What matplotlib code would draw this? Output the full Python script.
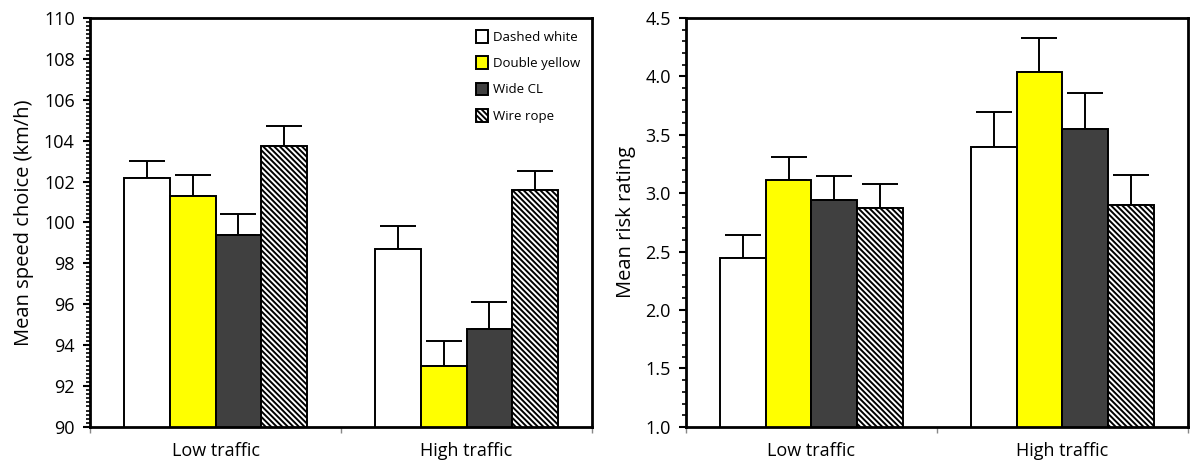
import matplotlib
matplotlib.use("Agg")
import matplotlib.pyplot as plt
from matplotlib.ticker import MultipleLocator
import numpy as np

plt.rcParams['font.family'] = ['Open Sans', 'DejaVu Sans']
plt.rcParams['hatch.linewidth'] = 1.4

conditions = ["Low traffic", "High traffic"]
treatments = ["Dashed white", "Double yellow", "Wide CL", "Wire rope"]

speed_mean = {
    "Dashed white": [102.2, 98.7],
    "Double yellow": [101.3, 93.0],
    "Wide CL": [99.4, 94.8],
    "Wire rope": [103.75, 101.6],
}
speed_err = {
    "Dashed white": [0.8, 1.15],
    "Double yellow": [1.0, 1.2],
    "Wide CL": [1.0, 1.3],
    "Wire rope": [0.95, 0.9],
}
risk_mean = {
    "Dashed white": [2.45, 3.40],
    "Double yellow": [3.11, 4.04],
    "Wide CL": [2.94, 3.55],
    "Wire rope": [2.87, 2.90],
}
risk_err = {
    "Dashed white": [0.19, 0.30],
    "Double yellow": [0.20, 0.29],
    "Wide CL": [0.21, 0.31],
    "Wire rope": [0.21, 0.26],
}

styles = {
    "Dashed white": dict(color="white", hatch=None),
    "Double yellow": dict(color="#ffff00", hatch=None),
    "Wide CL": dict(color="#404040", hatch=None),
    "Wire rope": dict(color="white", hatch="\\" * 6),
}

fig = plt.figure(figsize=(11.9, 4.63), dpi=100)
ax1 = fig.add_axes([0.0756, 0.078, 0.422, 0.883])
ax2 = fig.add_axes([0.5765, 0.078, 0.4215, 0.883])

width = 0.182
x = np.arange(len(conditions))


def draw(ax, means, errs, ylim, major, minor, ylabel, fmt):
    for i, t in enumerate(treatments):
        off = (i - 1.5) * width
        st = styles[t]
        ax.bar(x + off, means[t], width, color=st["color"], hatch=st["hatch"],
               edgecolor="black", linewidth=1.4, label=t, zorder=2)
        lo = np.zeros(len(conditions))
        ax.errorbar(x + off, means[t], yerr=[lo, errs[t]], fmt="none",
                    ecolor="black", elinewidth=1.4, capsize=13, capthick=1.4, zorder=1)
    ax.set_xlim(-0.5, 1.5)
    ax.set_ylim(*ylim)
    ax.yaxis.set_major_locator(MultipleLocator(major))
    ax.yaxis.set_minor_locator(MultipleLocator(minor))
    ax.yaxis.set_major_formatter(fmt)
    ax.set_xticks([-0.5, 0.5, 1.5])
    ax.set_xticklabels([])
    ax.set_xticks(x, minor=True)
    ax.set_xticklabels(conditions, minor=True)
    ax.tick_params(axis="x", which="minor", length=0, pad=11, labelsize=13)
    ax.tick_params(axis="x", which="major", length=4, width=1, color="#888888")
    ax.tick_params(axis="y", which="major", length=5, width=1.5, labelsize=13, pad=6)
    ax.tick_params(axis="y", which="minor", length=3, width=1.2)
    for s in ax.spines.values():
        s.set_linewidth(2)
    ax.set_ylabel(ylabel, fontsize=14.5, labelpad=7)


draw(ax1, speed_mean, speed_err, (90, 110), 2, 0.2, "Mean speed choice (km/h)", "{x:.0f}")
draw(ax2, risk_mean, risk_err, (1.0, 4.5), 0.5, 0.1, "Mean risk rating", "{x:.1f}")

ax1.legend(loc="upper right", frameon=False, fontsize=9.5, handlelength=0.9,
           handleheight=1.1, handletextpad=0.4, labelspacing=0.95,
           bbox_to_anchor=(1.0, 1.0))

fig.savefig("out.png", dpi=100)
